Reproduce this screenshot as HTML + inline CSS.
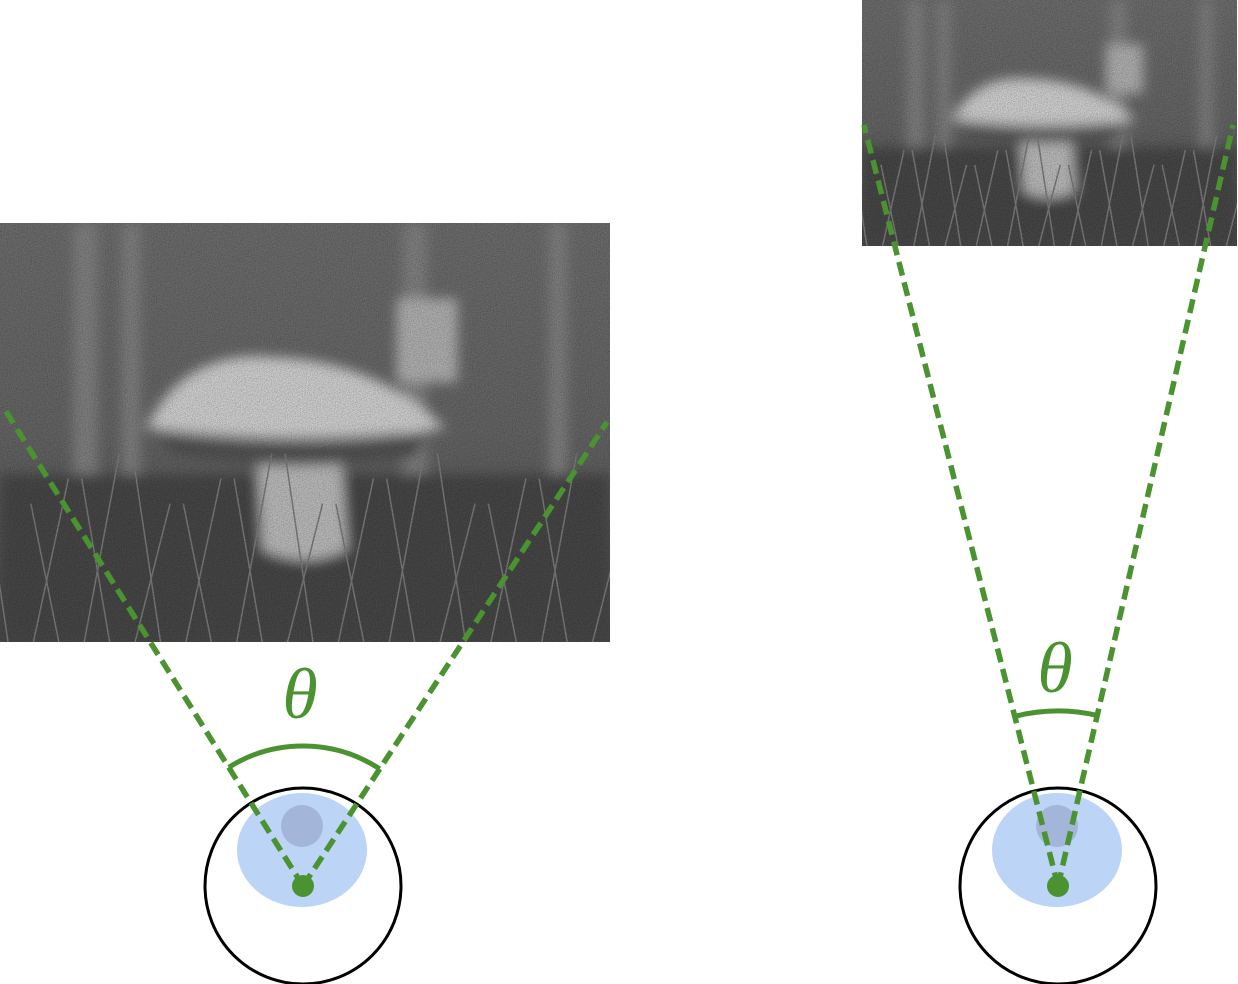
<!DOCTYPE html>
<html><head><meta charset="utf-8">
<style>
html,body{margin:0;padding:0;background:#fff;width:1238px;height:984px;overflow:hidden}
svg{display:block}
</style></head>
<body>
<svg id="fig" width="1238" height="984" viewBox="0 0 1238 984" xmlns="http://www.w3.org/2000/svg">
<defs>
<filter id="noise" x="0" y="0" width="100%" height="100%">
  <feTurbulence type="fractalNoise" baseFrequency="1.2" numOctaves="2" seed="3" result="n"/>
  <feColorMatrix type="saturate" values="0" in="n" result="g"/>
  <feComponentTransfer in="g" result="g2"><feFuncR type="linear" slope="2.2" intercept="-0.5"/><feFuncG type="linear" slope="2.2" intercept="-0.5"/><feFuncB type="linear" slope="2.2" intercept="-0.5"/><feFuncA type="linear" slope="0" intercept="0.6"/></feComponentTransfer>
  <feBlend in="SourceGraphic" in2="g2" mode="multiply"/>
</filter>
<filter id="blur"><feGaussianBlur stdDeviation="6"/></filter>
<linearGradient id="bg" x1="0" y1="0" x2="0" y2="1">
  <stop offset="0" stop-color="#707070"/><stop offset="0.5" stop-color="#686868"/><stop offset="1" stop-color="#4e4e4e"/>
</linearGradient>
</defs>
<g id="photos"></g>
<g id="eyes"></g>
</svg>
<script>
const NS="http://www.w3.org/2000/svg";
const photoRects=[[0,223,610,419],[862,0,375,246]];
const eyeCenters=[[303,886],[1058,886]];
const lineEnds=[[[5,410],[607,422]],[[864,125],[1233,125]]];
const arcRadius=[140,175];
const thetaPos=[[300,718],[1055,692]];
const green="#4a9330";
function mk(tag,attrs,parent){const e=document.createElementNS(NS,tag);for(const k in attrs)e.setAttribute(k,attrs[k]);parent.appendChild(e);return e;}
const photosG=document.getElementById('photos');
photoRects.forEach((r,i)=>{
  const [x,y,w,h]=r;
  const g=mk('g',{},photosG);
  
  
  const cp=mk('clipPath',{id:'cp'+i},g);mk('rect',{x,y,width:w,height:h},cp);
  const inner=mk('g',{'clip-path':'url(#cp'+i+')',filter:'url(#noise)'},g);
  mk('rect',{x,y,width:w,height:h,fill:'url(#bg)'},inner);
  const s=w/610;
  const bl=mk('g',{filter:'url(#blur)'},inner);
  [[0.12,0.03],[0.2,0.02],[0.66,0.03],[0.9,0.02]].forEach(t=>mk('rect',{x:x+t[0]*w,y:y,width:t[1]*w+6,height:h*0.6,fill:'#858585'},bl));
  mk('rect',{x:x+0.65*w,y:y+0.18*h,width:0.1*w,height:0.2*h,fill:'#b5b5b5'},bl);
  mk('rect',{x,y:y+0.6*h,width:w,height:h*0.4,fill:'#484848'},bl);
  mk('path',{d:`M${x+0.42*w} ${y+0.55*h} L${x+0.56*w} ${y+0.55*h} L${x+0.57*w} ${y+0.78*h} Q${x+0.5*w} ${y+0.83*h} ${x+0.43*w} ${y+0.78*h} Z`,fill:'#c0c0c0'},bl);
  mk('path',{d:`M${x+0.24*w} ${y+0.49*h} Q${x+0.3*w} ${y+0.3*h} ${x+0.45*w} ${y+0.32*h} Q${x+0.62*w} ${y+0.33*h} ${x+0.73*w} ${y+0.49*h} Q${x+0.5*w} ${y+0.54*h} ${x+0.24*w} ${y+0.49*h} Z`,fill:'#d6d6d6'},bl);
  mk('path',{d:`M${x+0.26*w} ${y+0.5*h} Q${x+0.5*w} ${y+0.56*h} ${x+0.7*w} ${y+0.5*h} L${x+0.68*w} ${y+0.56*h} Q${x+0.45*w} ${y+0.6*h} ${x+0.28*w} ${y+0.55*h} Z`,fill:'#555'},bl);
  for(let k=0;k<24;k++){const gx=x+(k/24)*w+8*s;mk('line',{x1:gx,y1:y+h,x2:gx+(k%2?35:-28)*s,y2:y+(0.55+(k%3)*0.06)*h,stroke:'#7e7e7e','stroke-width':1.5},inner);}
});
const eyesG=document.getElementById('eyes');
eyeCenters.forEach((c,i)=>{
  const [cx,cy]=c;
  const g=mk('g',{},eyesG);
  
  
  mk('circle',{cx,cy,r:98,fill:'#fff',stroke:'#000','stroke-width':3},g);
  mk('ellipse',{cx:cx-1,cy:cy-36,rx:65,ry:57,fill:'#bcd4f6'},g);
  mk('circle',{cx:cx-1,cy:cy-60,r:21,fill:'#a3b5d8'},g);
  const [a,b]=lineEnds[i];
  const l1=mk('line',{x1:cx,y1:cy,x2:a[0],y2:a[1],stroke:green,'stroke-width':5.5,'stroke-dasharray':'14 7'},g);
  
  
  const l2=mk('line',{x1:cx,y1:cy,x2:b[0],y2:b[1],stroke:green,'stroke-width':5.5,'stroke-dasharray':'14 7'},g);
  
  
  mk('circle',{cx,cy,r:11,fill:green},g);
  const R=arcRadius[i];
  const ang=p=>Math.atan2(p[1]-cy,p[0]-cx);
  const p1=[cx+R*Math.cos(ang(a)),cy+R*Math.sin(ang(a))],p2=[cx+R*Math.cos(ang(b)),cy+R*Math.sin(ang(b))];
  const arc=mk('path',{d:`M${p1[0]} ${p1[1]} A${R} ${R} 0 0 1 ${p2[0]} ${p2[1]}`,fill:'none',stroke:green,'stroke-width':5},g);
  
  
  const t=mk('text',{x:thetaPos[i][0],y:thetaPos[i][1],'text-anchor':'middle','font-family':'"Liberation Serif","DejaVu Serif",serif','font-style':'italic','font-size':72,fill:green},g);
  t.textContent='θ';
  
  
});
</script>
</body></html>
